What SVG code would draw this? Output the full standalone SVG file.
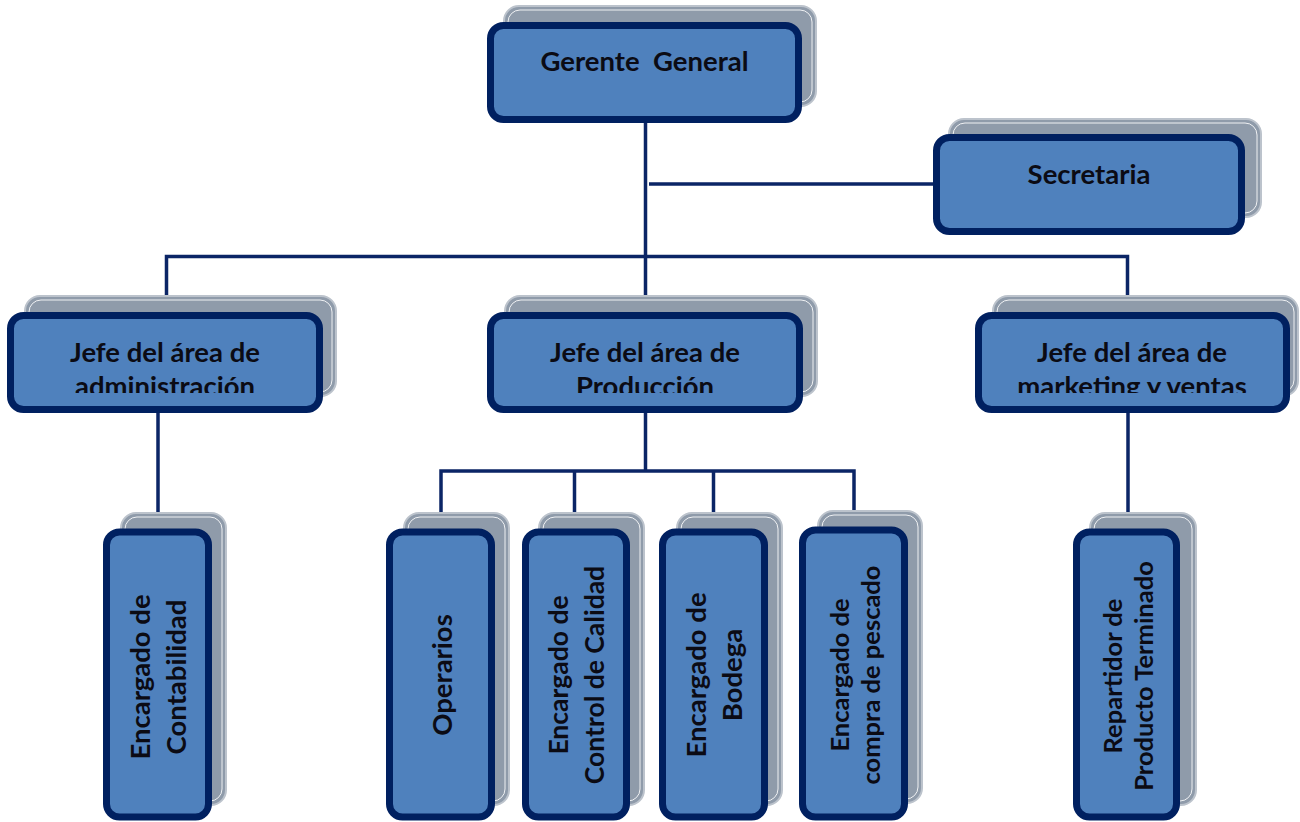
<svg xmlns="http://www.w3.org/2000/svg" width="1300" height="822" viewBox="0 0 1300 822">
  <style>
    .shadow { fill: #8F9BAA; stroke: #BCC3CC; stroke-width: 2; }
    .sheen { fill: none; stroke: #FFFFFF; stroke-width: 1; opacity: 0.85; }
    .box { fill: #4F81BD; stroke: #002060; stroke-width: 7; }
    .lbl { font-family: Lato, "Open Sans", "Liberation Sans", sans-serif; font-weight: bold; font-size: 27.5px; fill: #0B0B14; text-anchor: middle; }
    .sm { font-size: 26.5px; }
    .xs { font-size: 25.5px; }
    .wire { fill: none; stroke: #0B2566; stroke-width: 3.5; }
  </style>
  <defs>
    <clipPath id="clipAdm"><rect x="14" y="319" width="302" height="74"/></clipPath>
    <clipPath id="clipProd"><rect x="494" y="319" width="302" height="74"/></clipPath>
    <clipPath id="clipMkt"><rect x="982" y="319" width="301" height="74"/></clipPath>
  </defs>

  <rect width="1300" height="822" fill="#FFFFFF"/>

  <!-- connectors -->
  <g id="connectors" class="wire">
    <line x1="645.5" y1="123" x2="645.5" y2="313"/>
    <line x1="649" y1="184" x2="934" y2="184"/>
    <polyline points="166.5,313 166.5,256.5 1127.5,256.5 1127.5,313"/>
    <line x1="158" y1="413" x2="158" y2="530"/>
    <line x1="645.5" y1="413" x2="645.5" y2="471"/>
    <polyline points="441,529 441,471 854,471 854,529"/>
    <line x1="574.5" y1="471" x2="574.5" y2="529"/>
    <line x1="713.5" y1="471" x2="713.5" y2="529"/>
    <line x1="1128" y1="413" x2="1128" y2="530"/>
  </g>

  <!-- top level -->
  <g id="gerente">
    <rect class="shadow" x="504" y="6" width="312" height="100" rx="15"/>
    <rect class="sheen" x="508" y="10" width="304" height="92" rx="12"/>
    <rect class="box" x="490.5" y="25.5" width="308" height="94" rx="13"/>
    <text class="lbl" x="644.5" y="71" xml:space="preserve">Gerente  General</text>
  </g>

  <g id="secretaria">
    <rect class="shadow" x="949" y="119" width="312" height="98" rx="15"/>
    <rect class="sheen" x="953" y="123" width="304" height="90" rx="12"/>
    <rect class="box" x="936.5" y="137.5" width="305" height="94" rx="13"/>
    <text class="lbl" x="1089" y="184">Secretaria</text>
  </g>

  <!-- area heads -->
  <g id="jefe-administracion">
    <rect class="shadow" x="25" y="296" width="311" height="100" rx="15"/>
    <rect class="sheen" x="29" y="300" width="303" height="92" rx="12"/>
    <rect class="box" x="10.5" y="315.5" width="309" height="94" rx="13"/>
    <text class="lbl" clip-path="url(#clipAdm)"><tspan x="165" y="362">Jefe del área de</tspan><tspan x="165" y="396">administración</tspan></text>
  </g>

  <g id="jefe-produccion">
    <rect class="shadow" x="505" y="296" width="312" height="100" rx="15"/>
    <rect class="sheen" x="509" y="300" width="304" height="92" rx="12"/>
    <rect class="box" x="490.5" y="315.5" width="309" height="94" rx="13"/>
    <text class="lbl" clip-path="url(#clipProd)"><tspan x="645" y="362">Jefe del área de</tspan><tspan x="645" y="396">Producción</tspan></text>
  </g>

  <g id="jefe-marketing">
    <rect class="shadow" x="993" y="296" width="305" height="100" rx="15"/>
    <rect class="sheen" x="997" y="300" width="297" height="92" rx="12"/>
    <rect class="box" x="978.5" y="315.5" width="308" height="94" rx="13"/>
    <text class="lbl" clip-path="url(#clipMkt)"><tspan x="1132" y="362">Jefe del área de</tspan><tspan x="1132" y="396">marketing y ventas</tspan></text>
  </g>

  <!-- staff positions -->
  <g id="contabilidad">
    <rect class="shadow" x="121" y="513" width="105" height="292" rx="15"/>
    <rect class="sheen" x="125" y="517" width="97" height="284" rx="12"/>
    <rect class="box" x="106.5" y="532" width="102" height="285" rx="13"/>
    <text class="lbl" transform="translate(158 677) rotate(-90)"><tspan x="0" y="-8">Encargado de</tspan><tspan x="0" y="28">Contabilidad</tspan></text>
  </g>

  <g id="operarios">
    <rect class="shadow" x="404" y="513" width="105" height="292" rx="15"/>
    <rect class="sheen" x="408" y="517" width="97" height="284" rx="12"/>
    <rect class="box" x="389.5" y="532" width="102" height="285" rx="13"/>
    <text class="lbl" transform="translate(442 675) rotate(-90)" y="10">Operarios</text>
  </g>

  <g id="control-calidad">
    <rect class="shadow" x="539" y="513" width="105" height="292" rx="15"/>
    <rect class="sheen" x="543" y="517" width="97" height="284" rx="12"/>
    <rect class="box" x="525.5" y="532" width="101" height="285" rx="13"/>
    <text class="lbl sm" transform="translate(576 675) rotate(-90)"><tspan x="0" y="-8">Encargado de</tspan><tspan x="0" y="28">Control de Calidad</tspan></text>
  </g>

  <g id="bodega">
    <rect class="shadow" x="677" y="513" width="105" height="292" rx="15"/>
    <rect class="sheen" x="681" y="517" width="97" height="284" rx="12"/>
    <rect class="box" x="662.5" y="532" width="102" height="285" rx="13"/>
    <text class="lbl" transform="translate(714 675) rotate(-90)"><tspan x="0" y="-8">Encargado de</tspan><tspan x="0" y="28">Bodega</tspan></text>
  </g>

  <g id="compra-pescado">
    <rect class="shadow" x="818" y="511" width="104" height="292" rx="15"/>
    <rect class="sheen" x="822" y="515" width="96" height="284" rx="12"/>
    <rect class="box" x="802.5" y="530" width="102" height="287" rx="13"/>
    <text class="lbl xs" transform="translate(855 675) rotate(-90)"><tspan x="0" y="-6">Encargado de</tspan><tspan x="0" y="25">compra de pescado</tspan></text>
  </g>

  <g id="repartidor">
    <rect class="shadow" x="1090" y="513" width="106" height="292" rx="15"/>
    <rect class="sheen" x="1094" y="517" width="98" height="284" rx="12"/>
    <rect class="box" x="1076.5" y="532" width="100" height="285" rx="13"/>
    <text class="lbl xs" transform="translate(1128 676) rotate(-90)"><tspan x="0" y="-6">Repartidor de</tspan><tspan x="0" y="25">Producto Terminado</tspan></text>
  </g>
</svg>
